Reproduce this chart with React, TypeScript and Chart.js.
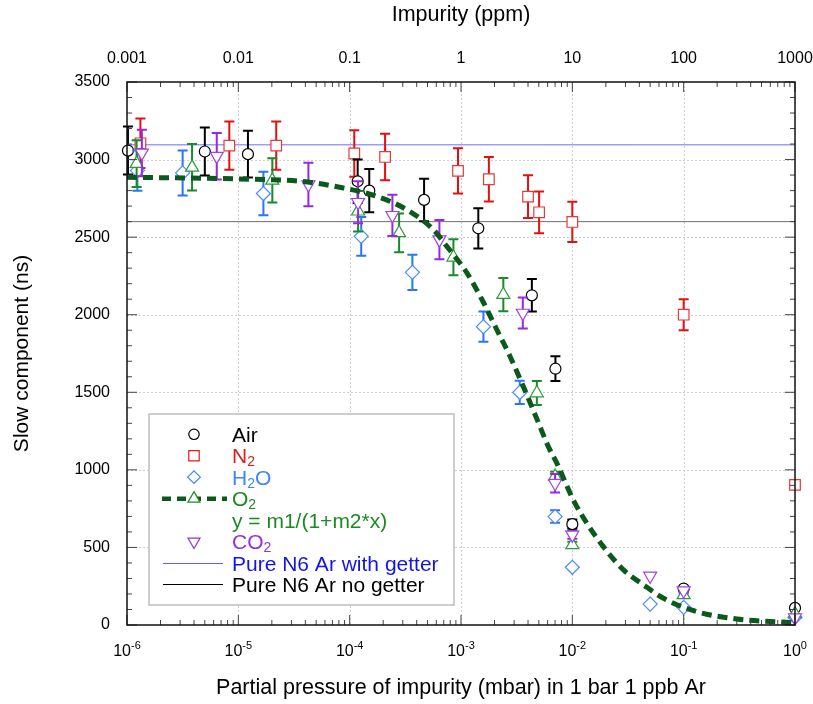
import { useEffect, useRef } from 'react';
import { Chart, registerables } from 'chart.js';

Chart.register(...registerables);

const FONT = '"Liberation Sans", Arial, Helvetica, sans-serif';

// ---- axis ticks ----
const decadesMbar = [1e-6, 1e-5, 1e-4, 1e-3, 1e-2, 1e-1, 1];
const decadeExponents = ['-6', '-5', '-4', '-3', '-2', '-1', '0'];
const ppmTicks = [0.001, 0.01, 0.1, 1, 10, 100, 1000];
const ppmLabels = ['0.001', '0.01', '0.1', '1', '10', '100', '1000'];
const yMin = 0;
const yMax = 3500;
const yStep = 500;
const yMinorStep = 100;

// ---- data (x in mbar, y in ns, err in ns) ----
const airX = [1.02e-6, 5e-6, 1.22e-5, 1.18e-4, 1.5e-4, 4.66e-4, 1.43e-3, 4.33e-3, 7.05e-3, 1e-2, 0.1, 1];
const airY = [3058, 3052, 3035, 2860, 2800, 2740, 2557, 2125, 1652, 650, 235, 110];
const airErr = [155, 155, 150, 140, 140, 137, 130, 105, 80, 30, 12, 0];

const n2X = [1.32e-6, 8.3e-6, 2.19e-5, 1.1e-4, 2.08e-4, 9.4e-4, 1.78e-3, 4.0e-3, 5.03e-3, 1e-2, 0.1, 1];
const n2Y = [3105, 3090, 3090, 3039, 3017, 2927, 2873, 2761, 2660, 2598, 2000, 903];
const n2Err = [160, 155, 155, 150, 150, 146, 144, 138, 135, 130, 100, 20];

const h2oX = [1.24e-6, 3.16e-6, 1.68e-5, 1.27e-4, 3.66e-4, 1.59e-3, 3.37e-3, 7.0e-3, 1e-2, 0.05, 0.1, 1];
const h2oY = [2929, 2914, 2781, 2505, 2273, 1923, 1499, 699, 372, 135, 114, 50];
const h2oErr = [130, 145, 140, 125, 113, 97, 75, 40, 0, 0, 0, 0];

const o2X = [1.22e-6, 3.84e-6, 2.02e-5, 1.19e-4, 2.78e-4, 8.55e-4, 2.4e-3, 4.8e-3, 7e-3, 1e-2, 0.1, 1];
const o2Y = [2974, 2950, 2866, 2667, 2527, 2370, 2129, 1495, 957, 516, 194, 71];
const o2Err = [150, 150, 143, 130, 125, 116, 107, 77, 30, 20, 10, 0];

const co2X = [1.36e-6, 6.4e-6, 4.26e-5, 1.19e-4, 2.42e-4, 6.4e-4, 3.59e-3, 7e-3, 1e-2, 0.05, 0.1, 1];
const co2Y = [3043, 3022, 2839, 2725, 2641, 2484, 2011, 914, 581, 316, 221, 47];
const co2Err = [150, 150, 140, 135, 133, 126, 100, 60, 25, 0, 10, 0];

// O2 fit y = m1/(1+m2*x)
const fitX = [1e-6, 1e-5, 3.6e-5, 8.8e-5, 1.75e-4, 3.26e-4, 5.65e-4, 7.45e-4, 1.13e-3, 1.55e-3, 2.1e-3, 2.76e-3, 3.63e-3, 4.79e-3, 6.09e-3, 7.26e-3, 1.02e-2, 1.35e-2, 1.9e-2, 2.88e-2, 4.37e-2, 6.6e-2, 0.131, 0.3, 1];
const fitY = [2886, 2875, 2860, 2817, 2763, 2677, 2548, 2441, 2269, 2095, 1903, 1731, 1537, 1330, 1150, 1043, 806, 656, 505, 355, 258, 172, 86, 39, 14];

const lineX = [1e-6, 1];
const getterY = [3095, 3095];
const noGetterY = [2600, 2600];

const pts = (xs: number[], ys: number[]) => xs.map((x, i) => ({ x, y: ys[i] }));

// ---- plugins ----
const gridPlugin = {
  id: 'customGrid',
  beforeDatasetsDraw(chart: any) {
    const { ctx, chartArea: a } = chart;
    const xs = chart.scales.x;
    const ys = chart.scales.y;
    ctx.save();
    ctx.strokeStyle = '#cfcfcf';
    ctx.lineWidth = 1;
    ctx.setLineDash([2, 2]);
    decadesMbar.forEach((v) => {
      const px = Math.round(xs.getPixelForValue(v)) + 0.5;
      if (px <= a.left + 1 || px >= a.right - 1) return;
      ctx.beginPath();
      ctx.moveTo(px, a.top);
      ctx.lineTo(px, a.bottom);
      ctx.stroke();
    });
    for (let v = yMin + yStep; v < yMax; v += yStep) {
      const py = Math.round(ys.getPixelForValue(v)) + 0.5;
      ctx.beginPath();
      ctx.moveTo(a.left, py);
      ctx.lineTo(a.right, py);
      ctx.stroke();
    }
    ctx.restore();
  },
};

const errorBarPlugin = {
  id: 'errorBars',
  beforeDatasetDraw(chart: any, args: any) {
    const ds = chart.data.datasets[args.index];
    if (!ds.errors) return;
    const { ctx } = chart;
    const xs = chart.scales.x;
    const ys = chart.scales.y;
    ctx.save();
    ctx.strokeStyle = ds.errColor;
    ctx.lineWidth = 2;
    ds.data.forEach((p: any, i: number) => {
      const e = ds.errors[i];
      if (!e) return;
      const px = xs.getPixelForValue(p.x);
      const yt = ys.getPixelForValue(p.y + e);
      const yb = ys.getPixelForValue(p.y - e);
      ctx.beginPath();
      ctx.moveTo(px, yt);
      ctx.lineTo(px, yb);
      ctx.moveTo(px - 5, yt);
      ctx.lineTo(px + 5, yt);
      ctx.moveTo(px - 5, yb);
      ctx.lineTo(px + 5, yb);
      ctx.stroke();
    });
    ctx.restore();
  },
};

function drawMarker(ctx: CanvasRenderingContext2D, style: string, x: number, y: number, r: number, color: string) {
  ctx.save();
  ctx.fillStyle = '#fff';
  ctx.strokeStyle = color;
  ctx.lineWidth = 1.2;
  ctx.beginPath();
  if (style === 'circle') {
    ctx.arc(x, y, r, 0, Math.PI * 2);
  } else if (style === 'rect') {
    ctx.rect(x - r, y - r, 2 * r, 2 * r);
  } else if (style === 'diamond') {
    ctx.moveTo(x - r, y);
    ctx.lineTo(x, y - r);
    ctx.lineTo(x + r, y);
    ctx.lineTo(x, y + r);
    ctx.closePath();
  } else if (style === 'up') {
    ctx.moveTo(x, y - r);
    ctx.lineTo(x + r * 0.866, y + r * 0.5);
    ctx.lineTo(x - r * 0.866, y + r * 0.5);
    ctx.closePath();
  } else if (style === 'down') {
    ctx.moveTo(x, y + r);
    ctx.lineTo(x + r * 0.866, y - r * 0.5);
    ctx.lineTo(x - r * 0.866, y - r * 0.5);
    ctx.closePath();
  }
  ctx.fill();
  ctx.stroke();
  ctx.restore();
}

type Part = [string, boolean];
function drawRich(ctx: CanvasRenderingContext2D, parts: Part[], x: number, baseline: number, size: number, color: string) {
  ctx.save();
  ctx.fillStyle = color;
  ctx.textAlign = 'left';
  ctx.textBaseline = 'alphabetic';
  let cx = x;
  parts.forEach(([t, sub]) => {
    ctx.font = `${sub ? Math.round(size * 0.66) : size}px ${FONT}`;
    ctx.fillText(t, cx, sub ? baseline + 3 : baseline);
    cx += ctx.measureText(t).width;
  });
  ctx.restore();
}

const legendRows: { marker: string | null; line: string | null; color: string; mColor: string; parts: Part[] }[] = [
  { marker: 'circle', line: null, color: '#000000', mColor: '#000000', parts: [['Air', false]] },
  { marker: 'rect', line: null, color: '#e31a1a', mColor: '#e31a1a', parts: [['N', false], ['2', true]] },
  { marker: 'diamond', line: null, color: '#3d86ff', mColor: '#3d86ff', parts: [['H', false], ['2', true], ['O', false]] },
  { marker: 'up', line: 'fit', color: '#1b8a22', mColor: '#1b8a22', parts: [['O', false], ['2', true]] },
  { marker: null, line: null, color: '#1b8a22', mColor: '#1b8a22', parts: [['y = m1/(1+m2*x)', false]] },
  { marker: 'down', line: null, color: '#9a30d8', mColor: '#9a30d8', parts: [['CO', false], ['2', true]] },
  { marker: null, line: 'getter', color: '#1414e8', mColor: '#6060ff', parts: [['Pure N6 Ar with getter', false]] },
  { marker: null, line: 'nogetter', color: '#000000', mColor: '#000000', parts: [['Pure N6 Ar no getter', false]] },
];

const frameLegendPlugin = {
  id: 'frameLegend',
  afterDatasetsDraw(chart: any) {
    const { ctx, chartArea: a } = chart;
    const xs = chart.scales.x;
    const ys = chart.scales.y;
    ctx.save();
    // inner ticks
    ctx.strokeStyle = '#444';
    ctx.lineWidth = 1;
    ctx.beginPath();
    for (let d = 0; d < decadesMbar.length; d++) {
      const base = decadesMbar[d];
      const pMajor = xs.getPixelForValue(base);
      ctx.moveTo(pMajor, a.bottom);
      ctx.lineTo(pMajor, a.bottom - 10);
      ctx.moveTo(pMajor, a.top);
      ctx.lineTo(pMajor, a.top + 10);
      if (d === decadesMbar.length - 1) break;
      for (let m = 2; m <= 9; m++) {
        const px = xs.getPixelForValue(base * m);
        ctx.moveTo(px, a.bottom);
        ctx.lineTo(px, a.bottom - 5);
        ctx.moveTo(px, a.top);
        ctx.lineTo(px, a.top + 5);
      }
    }
    for (let v = yMin; v <= yMax; v += yMinorStep) {
      const py = ys.getPixelForValue(v);
      const len = v % yStep === 0 ? 10 : 5;
      ctx.moveTo(a.left, py);
      ctx.lineTo(a.left + len, py);
      ctx.moveTo(a.right, py);
      ctx.lineTo(a.right - len, py);
    }
    ctx.stroke();
    // frame
    ctx.strokeStyle = '#111';
    ctx.lineWidth = 1.5;
    ctx.strokeRect(a.left, a.top, a.right - a.left, a.bottom - a.top);
    // bottom tick labels with superscript exponents
    ctx.fillStyle = '#000';
    ctx.textBaseline = 'alphabetic';
    ctx.textAlign = 'left';
    decadesMbar.forEach((v, i) => {
      const px = xs.getPixelForValue(v);
      ctx.font = `16px ${FONT}`;
      const w1 = ctx.measureText('10').width;
      ctx.font = `11px ${FONT}`;
      const w2 = ctx.measureText(decadeExponents[i]).width;
      const x0 = px - (w1 + w2) / 2;
      ctx.font = `16px ${FONT}`;
      ctx.fillText('10', x0, 656);
      ctx.font = `11px ${FONT}`;
      ctx.fillText(decadeExponents[i], x0 + w1, 649);
    });
    ctx.restore();
  },
  afterDraw(chart: any) {
    const { ctx } = chart;
    const bx = 149, by = 414, bw = 305, bh = 191;
    ctx.save();
    ctx.fillStyle = '#fff';
    ctx.fillRect(bx, by, bw, bh);
    ctx.strokeStyle = '#bdbdbd';
    ctx.lineWidth = 1.5;
    ctx.strokeRect(bx, by, bw, bh);
    const rowY0 = 434.3;
    const rowStep = 21.45;
    const markX = 194;
    const textX = 232;
    legendRows.forEach((row, i) => {
      const cy = rowY0 + i * rowStep;
      if (row.line === 'fit') {
        ctx.save();
        ctx.strokeStyle = '#0b5a1c';
        ctx.lineWidth = 4.5;
        ctx.setLineDash([9, 6]);
        ctx.beginPath();
        ctx.moveTo(162, cy);
        ctx.lineTo(227, cy);
        ctx.stroke();
        ctx.restore();
      } else if (row.line === 'getter' || row.line === 'nogetter') {
        ctx.save();
        ctx.strokeStyle = row.mColor;
        ctx.lineWidth = 1;
        ctx.beginPath();
        ctx.moveTo(163, Math.round(cy) + 0.5);
        ctx.lineTo(223, Math.round(cy) + 0.5);
        ctx.stroke();
        ctx.restore();
      }
      if (row.marker) {
        const r = row.marker === 'circle' ? 5.2 : row.marker === 'rect' ? 5.2 : row.marker === 'diamond' ? 6.3 : 7;
        drawMarker(ctx, row.marker, markX, cy, r, row.mColor);
      }
      drawRich(ctx, row.parts, textX, cy + 7.5, 21, row.color);
    });
    ctx.restore();
  },
};

export default function App() {
  const ref = useRef<HTMLCanvasElement>(null);
  useEffect(() => {
    document.body.style.margin = '0';
    Chart.defaults.font.family = FONT;
    const common = { showLine: false, pointBackgroundColor: '#ffffff', pointBorderWidth: 1.2, clip: false };
    const chart = new Chart(ref.current as HTMLCanvasElement, {
      type: 'scatter',
      data: {
        datasets: [
          {
            label: 'O2 fit',
            data: pts(fitX, fitY),
            showLine: true,
            borderColor: '#0b5a1c',
            borderWidth: 5,
            borderDash: [10, 6],
            pointRadius: 0,
            cubicInterpolationMode: 'monotone',
            order: 0,
          },
          { label: 'CO2', data: pts(co2X, co2Y), ...common, pointStyle: 'triangle', rotation: 180, pointRadius: 7.5, pointBorderColor: '#a040e8', errors: co2Err, errColor: '#9b26e0', order: 1 },
          { label: 'O2', data: pts(o2X, o2Y), ...common, pointStyle: 'triangle', pointRadius: 7.5, pointBorderColor: '#2a9a3a', errors: o2Err, errColor: '#1a8a2a', order: 2 },
          { label: 'H2O', data: pts(h2oX, h2oY), ...common, pointStyle: 'rectRot', pointRadius: 7, pointBorderColor: '#4a8cff', errors: h2oErr, errColor: '#2a75f0', order: 3 },
          { label: 'Air', data: pts(airX, airY), ...common, pointStyle: 'circle', pointRadius: 5.5, pointBorderColor: '#000000', errors: airErr, errColor: '#000000', order: 4 },
          { label: 'N2', data: pts(n2X, n2Y), ...common, pointStyle: 'rect', pointRadius: 7.5, pointBorderColor: '#e23a3a', errors: n2Err, errColor: '#e31010', order: 5 },
          { label: 'no getter', data: pts(lineX, noGetterY), showLine: true, borderColor: '#6e6e6e', borderWidth: 1, pointRadius: 0, order: 6 },
          { label: 'with getter', data: pts(lineX, getterY), showLine: true, borderColor: '#6d6dff', borderWidth: 1, pointRadius: 0, order: 7 },
        ] as any,
      },
      options: {
        responsive: false,
        animation: false,
        devicePixelRatio: 1,
        layout: { padding: { left: 0, right: 18, top: 0, bottom: 0 } },
        plugins: { legend: { display: false }, tooltip: { enabled: false } },
        scales: {
          x: {
            type: 'logarithmic',
            position: 'bottom',
            min: 1e-6,
            max: 1,
            afterBuildTicks: (s: any) => {
              s.ticks = decadesMbar.map((v) => ({ value: v }));
            },
            ticks: { display: false },
            grid: { display: false, drawTicks: false },
            border: { display: false },
            title: {
              display: true,
              text: 'Partial pressure of impurity (mbar) in 1 bar 1 ppb Ar',
              color: '#000',
              font: { size: 21.5, family: FONT },
              padding: { top: 0, bottom: 3.5 },
            },
            afterFit: (s: any) => {
              s.height = 79;
              s.paddingLeft = 0;
              s.paddingRight = 0;
            },
          },
          xTop: {
            type: 'logarithmic',
            position: 'top',
            min: 0.001,
            max: 1000,
            afterBuildTicks: (s: any) => {
              s.ticks = ppmTicks.map((v) => ({ value: v }));
            },
            ticks: {
              color: '#000',
              font: { size: 16, family: FONT },
              padding: 13.5,
              autoSkip: false,
              maxRotation: 0,
              callback: (_v: any, i: number) => ppmLabels[i],
            },
            grid: { display: false, drawTicks: false },
            border: { display: false },
            title: {
              display: true,
              text: 'Impurity (ppm)',
              color: '#000',
              font: { size: 21.5, family: FONT },
              padding: { top: 2.5, bottom: 0 },
            },
            afterFit: (s: any) => {
              s.height = 82;
              s.paddingLeft = 0;
              s.paddingRight = 0;
            },
          },
          y: {
            type: 'linear',
            min: yMin,
            max: yMax,
            ticks: {
              stepSize: yStep,
              color: '#000',
              font: { size: 16, family: FONT },
              padding: 17,
              callback: (v: any) => String(v),
            },
            grid: { display: false, drawTicks: false },
            border: { display: false },
            title: {
              display: true,
              text: 'Slow component (ns)',
              color: '#000',
              font: { size: 21, family: FONT },
              padding: { top: 9.5, bottom: 0 },
            },
            afterFit: (s: any) => {
              s.width = 127;
              s.paddingTop = 0;
              s.paddingBottom = 0;
            },
          },
        },
      } as any,
      plugins: [gridPlugin, errorBarPlugin, frameLegendPlugin],
    });
    return () => chart.destroy();
  }, []);
  return (
    <div style={{ width: 813, height: 704 }}>
      <canvas ref={ref} width={813} height={704} style={{ display: 'block' }} />
    </div>
  );
}
